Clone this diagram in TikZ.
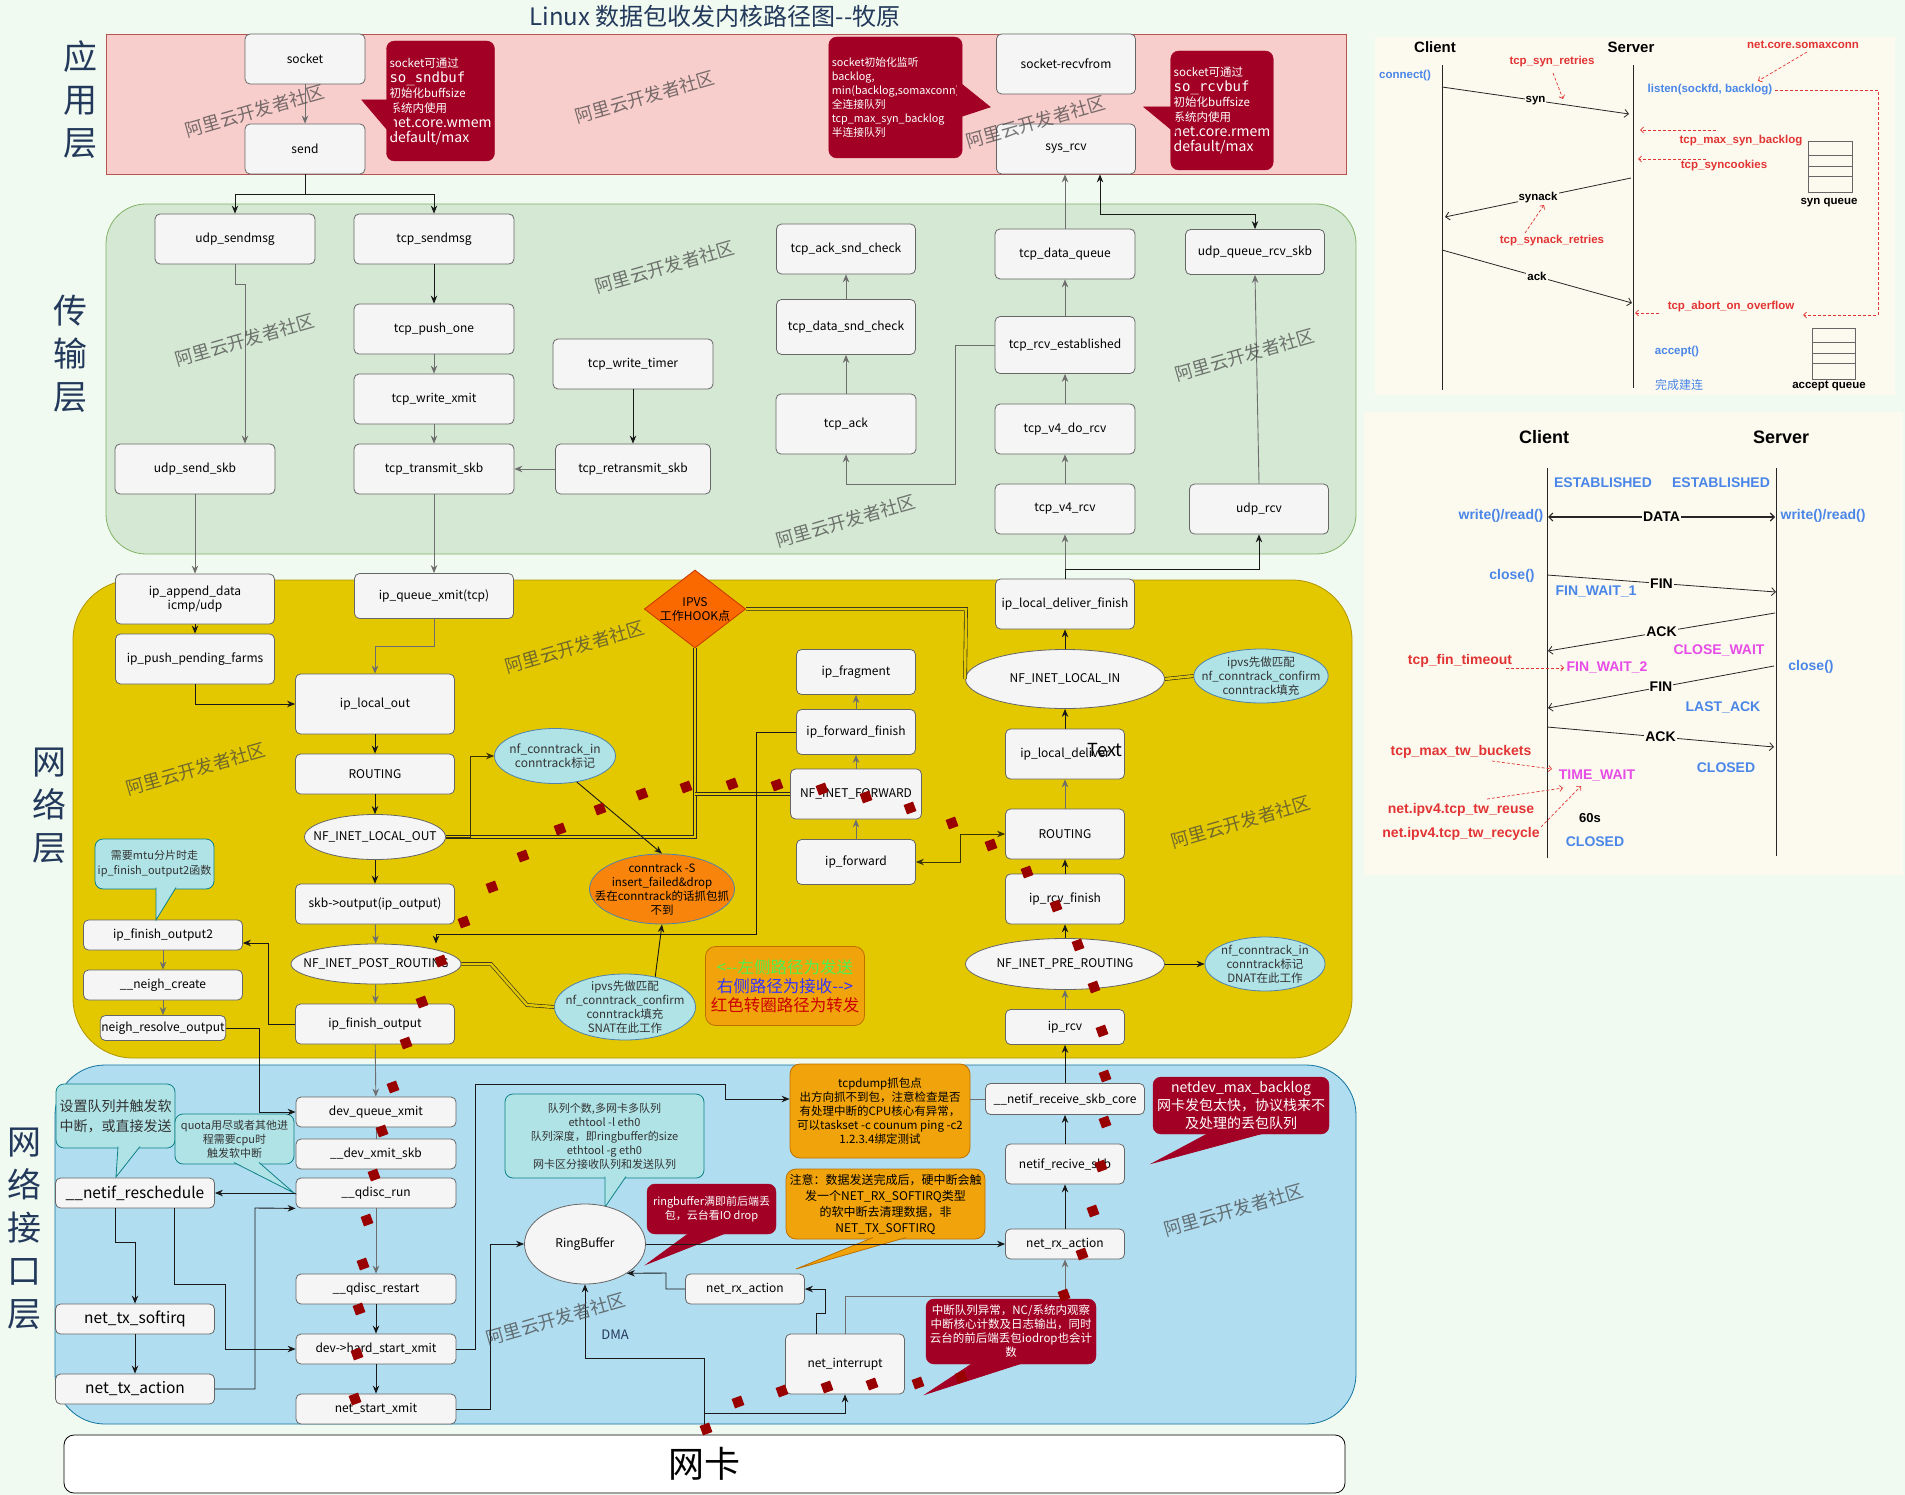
\documentclass[tikz,border=0pt]{standalone}
\usepackage{fontspec}
\setmainfont{Noto Sans CJK SC}
\newfontfamily\monofnt{DejaVu Sans Mono}
\newfontfamily\arialfnt{Liberation Sans}
\usetikzlibrary{arrows.meta,shapes.geometric}
\definecolor{bgG}{RGB}{241,250,240}
\definecolor{appF}{RGB}{248,206,204}
\definecolor{appL}{RGB}{184,84,80}
\definecolor{trF}{RGB}{213,232,212}
\definecolor{trL}{RGB}{130,179,102}
\definecolor{netF}{RGB}{227,200,0}
\definecolor{netL}{RGB}{176,149,0}
\definecolor{ifF}{RGB}{177,221,240}
\definecolor{ifL}{RGB}{16,115,158}
\definecolor{boxF}{RGB}{245,245,245}
\definecolor{boxL}{RGB}{102,102,102}
\definecolor{noteR}{RGB}{162,0,37}
\definecolor{tealF}{RGB}{176,227,230}
\definecolor{tealL}{RGB}{14,128,136}
\definecolor{ellL}{RGB}{80,130,170}
\definecolor{orgF}{RGB}{240,163,10}
\definecolor{orgL}{RGB}{189,112,0}
\definecolor{ipvsF}{RGB}{250,104,0}
\definecolor{ipvsL}{RGB}{199,53,0}
\definecolor{ctF}{RGB}{248,132,12}
\definecolor{navy}{RGB}{35,57,91}
\definecolor{pnlF}{RGB}{252,250,238}
\definecolor{pBlue}{RGB}{74,134,232}
\definecolor{pRed}{RGB}{226,52,52}
\definecolor{pMag}{RGB}{230,76,230}
\definecolor{sqR}{RGB}{153,0,0}
\definecolor{lnG}{RGB}{110,110,110}
\definecolor{lnD}{RGB}{60,52,0}
\definecolor{lgGreen}{RGB}{80,240,80}
\definecolor{lgBlue}{RGB}{51,51,255}
\definecolor{lgRed}{RGB}{204,0,0}
\newcommand\fsz[2]{\fontsize{#1}{#2}\selectfont}
\newcommand\calltail[5]{\fill[#1] #3 -- #4 -- #5 -- cycle; \draw[#2,line width=0.8pt] #3 -- #4 -- #5;}

\begin{document}
\begin{tikzpicture}[x=1pt,y=-1pt,>={Stealth[length=8pt,width=6.5pt]},
  fn/.style={draw=boxL,fill=boxF,rounded corners=5pt,line width=0.8pt,align=center,inner sep=1pt,font=\fsz{12}{14}},
  sz/.style 2 args={minimum width=#1pt,minimum height=#2pt},
  hookE/.style={ellipse,draw=boxL,fill=boxF,line width=0.8pt,inner xsep=-16pt,inner ysep=-4pt,font=\fsz{12}{14}},
  tealE/.style={ellipse,draw=ellL,fill=tealF,line width=0.8pt,inner xsep=-12pt,inner ysep=-6pt,align=center,font=\fsz{11.5}{14},text=black!80},
  tnote/.style={draw=tealL,fill=tealF,rounded corners=8pt,line width=0.8pt,align=center,inner sep=2pt,text=black!80},
  rnote/.style={draw=noteR,fill=noteR,rounded corners=8pt,align=left,inner sep=3pt,text=white},
  onote/.style={draw=orgL,fill=orgF,rounded corners=10pt,line width=0.8pt,align=center,inner sep=2pt},
  gl/.style={draw=lnG,line width=0.9pt},
  bl/.style={draw=black!90,line width=0.9pt},
  dl/.style={draw=lnD,line width=0.9pt},
  dbl/.style={draw=black!85,line width=0.6pt,double=netF,double distance=2.5pt},
  wmark/.style={rotate=16,text=black!75,text opacity=0.7,font=\fsz{18}{18}},
  lyr/.style={text=navy,align=center,font=\fsz{34}{43}},
  ph1/.style={font=\arialfnt\bfseries\fsz{15}{17},inner sep=1pt},
  ph2/.style={font=\arialfnt\bfseries\fsz{18}{20},inner sep=1pt},
  pa/.style={font=\arialfnt\bfseries\fsz{11.5}{13},inner sep=1pt},
  pb/.style={font=\arialfnt\bfseries\fsz{14}{16},inner sep=1pt},
  parr/.style={draw=black!85,line width=0.8pt,-{Straight Barb[length=4pt,width=8pt]}},
  pdash/.style={draw=pRed,line width=0.7pt,dash pattern=on 3pt off 2pt,-{Straight Barb[length=3pt,width=6pt]}}]

\useasboundingbox (0,0) rectangle (1905,1495);
\fill[bgG] (0,0) rectangle (1905,1495);

% layers
\draw[draw=appL,fill=appF,line width=0.8pt] (106,34) rectangle (1346,174);
\draw[draw=trL,fill=trF,line width=0.8pt,rounded corners=40pt] (106,204) rectangle (1356,554);
\draw[draw=netL,fill=netF,line width=0.8pt,rounded corners=60pt] (73,580) rectangle (1352,1058);
\draw[draw=ifL,fill=ifF,line width=0.8pt,rounded corners=50pt] (55,1065) rectangle (1356,1424);
\node[draw=black,fill=white,rounded corners=10pt,line width=0.8pt,sz={1281}{58},font=\fsz{36}{40}] (nic) at (704.5,1464) {网卡};

\node[font=\fsz{24}{28},text=navy] (title) at (715,16) {Linux 数据包收发内核路径图-{}-牧原};
\node[lyr] (lblApp) at (80,100) {应\\用\\层};
\node[lyr] (lblTr) at (70,354) {传\\输\\层};
\node[lyr] (lblNet) at (49,806) {网\\络\\层};
\node[lyr] (lblIf) at (24,1229) {网\\络\\接\\口\\层};

% application layer
\node[fn,sz={120}{50}] (sock) at (305,59) {socket};
\node[fn,sz={120}{50}] (send) at (305,149) {send};
\node[fn,sz={139}{60}] (recvfrom) at (1066,64) {socket-recvfrom};
\node[fn,sz={139}{50}] (sysrcv) at (1066,149) {sys\_rcv};
\node[rnote,sz={97}{120},font=\fsz{11.5}{15}] (sndnote) at (440.5,101) {socket可通过\\{\monofnt\fsz{14}{15}so\_sndbuf}\\初始化buffsize\\系统内使用\\{\fsz{14}{16}net.core.wmem}\\{\fsz{14}{16}default/max}};
\calltail{noteR}{noteR}{(393.5,100)}{(362,100)}{(393.5,137)}
\node[rnote,sz={125}{121},font=\fsz{10.8}{14}] (lsnnote) at (895.5,97.5) {socket初始化监听\\backlog,\\min(backlog,somaxconn)\\全连接队列\\tcp\_max\_syn\_backlog\\半连接队列};
\calltail{noteR}{noteR}{(956.5,80)}{(990,107)}{(956.5,118)}
\node[rnote,sz={96}{119},font=\fsz{11.5}{15}] (rcvnote) at (1222,110.5) {socket可通过\\{\monofnt\fsz{14}{15}so\_rcvbuf}\\初始化buffsize\\系统内使用\\{\fsz{14}{16}net.core.rmem}\\{\fsz{14}{16}default/max}};
\calltail{noteR}{noteR}{(1175.5,107)}{(1144,107)}{(1175.5,133)}

% transport layer
\node[fn,sz={160}{50}] (udpmsg) at (235,239) {udp\_sendmsg};
\node[fn,sz={160}{50}] (tcpmsg) at (434,239) {tcp\_sendmsg};
\node[fn,sz={160}{50}] (pushone) at (434,329) {tcp\_push\_one};
\node[fn,sz={160}{50}] (wxmit) at (434,399) {tcp\_write\_xmit};
\node[fn,sz={160}{50}] (txskb) at (434,469) {tcp\_transmit\_skb};
\node[fn,sz={160}{50}] (udpskb) at (195,469) {udp\_send\_skb};
\node[fn,sz={160}{50}] (wtimer) at (633,364) {tcp\_write\_timer};
\node[fn,sz={155}{50}] (retx) at (633,469) {tcp\_retransmit\_skb};
\node[fn,sz={139}{50}] (acksnd) at (846,249) {tcp\_ack\_snd\_check};
\node[fn,sz={139}{55}] (datasnd) at (846,327) {tcp\_data\_snd\_check};
\node[fn,sz={140}{60}] (tcpack) at (846,424) {tcp\_ack};
\node[fn,sz={140}{50}] (dataq) at (1065,254) {tcp\_data\_queue};
\node[fn,sz={140}{57}] (rcvest) at (1065,345) {tcp\_rcv\_established};
\node[fn,sz={140}{50}] (dorcv) at (1065,429) {tcp\_v4\_do\_rcv};
\node[fn,sz={140}{50}] (v4rcv) at (1065,509) {tcp\_v4\_rcv};
\node[fn,sz={139}{45}] (udpq) at (1255,252) {udp\_queue\_rcv\_skb};
\node[fn,sz={139}{50}] (udprcv) at (1259,509) {udp\_rcv};

% network layer
\node[fn,sz={159}{50}] (append) at (195,599) {ip\_append\_data\\icmp/udp};
\node[fn,sz={159}{50}] (pending) at (195,659) {ip\_push\_pending\_farms};
\node[fn,sz={159}{45}] (qxmit) at (434,596) {ip\_queue\_xmit(tcp)};
\node[fn,sz={159}{60}] (lout) at (375,704) {ip\_local\_out};
\node[fn,sz={159}{40}] (routeL) at (375,774) {ROUTING};
\node[hookE,sz={141}{45}] (hLout) at (375,837) {NF\_INET\_LOCAL\_OUT};
\node[fn,sz={159}{40}] (ipout) at (375,904) {skb->output(ip\_output)};
\node[hookE,sz={170}{40}] (hPost) at (376,964) {NF\_INET\_POST\_ROUTING};
\node[fn,sz={159}{40}] (finout) at (375,1024) {ip\_finish\_output};
\node[fn,sz={159}{30}] (finout2) at (163,935) {ip\_finish\_output2};
\node[fn,sz={159}{30}] (neigh) at (163,985) {\_\_neigh\_create};
\node[fn,sz={119}{25}] (resolve) at (163,1028) {neigh\_resolve\_output};
\node[tnote,sz={119}{50},font=\fsz{11}{15}] (mtunote) at (154.5,864) {需要mtu分片时走\\ip\_finish\_output2函数};
\calltail{tealF}{tealL}{(156,887.5)}{(156,920)}{(176,887.5)}
\node[tealE,sz={121}{55},font=\fsz{12}{14}] (ctinL) at (555,756) {nf\_conntrack\_in\\conntrack标记};
\node[diamond,aspect=1.3,draw=ipvsL,fill=ipvsF,line width=0.8pt,inner sep=0pt,sz={101}{78},align=center,font=\fsz{12}{14}] (ipvs) at (695,609) {IPVS\\工作HOOK点};
\node[ellipse,draw=ellL,fill=ctF,line width=0.8pt,inner xsep=-20pt,inner ysep=-8pt,sz={145}{70},align=center,font=\fsz{11.5}{14}] (ctS) at (662,889) {conntrack -S\\insert\_failed\&drop\\丢在conntrack的话抓包抓\\不到};
\node[tealE,inner xsep=-14pt,inner ysep=-8pt,sz={141}{66}] (ipvsL) at (625,1007) {ipvs先做匹配\\nf\_conntrack\_confirm\\conntrack填充\\SNAT在此工作};
\node[onote,sz={159}{79},font=\fsz{16.5}{19}] (legend) at (785,986) {{\color{lgGreen}<-{}-左侧路径为发送}\\{\color{lgBlue}右侧路径为接收-{}->}\\{\color{lgRed}红色转圈路径为转发}};
\node[fn,sz={139}{50}] (ldfin) at (1065,604) {ip\_local\_deliver\_finish};
\node[hookE,sz={199}{59}] (hLin) at (1065,679) {NF\_INET\_LOCAL\_IN};
\node[tealE,sz={129}{54}] (ipvsR) at (1261,676) {ipvs先做匹配\\nf\_conntrack\_confirm\\conntrack填充};
\node[fn,sz={119}{50}] (ldeliver) at (1065,754) {ip\_local\_deliver};
\node[font=\fsz{18}{18},inner sep=0pt] (stray) at (1105,750) {Text};
\node[fn,sz={119}{50}] (routeR) at (1065,834) {ROUTING};
\node[fn,sz={119}{50}] (rcvfin) at (1065,899) {ip\_rcv\_finish};
\node[hookE,sz={199}{51}] (hPre) at (1065,964) {NF\_INET\_PRE\_ROUTING};
\node[tealE,sz={120}{54}] (ctinR) at (1265,964) {nf\_conntrack\_in\\conntrack标记\\DNAT在此工作};
\node[fn,sz={119}{35}] (iprcv) at (1065,1027) {ip\_rcv};
\node[fn,sz={119}{45}] (frag) at (856,672) {ip\_fragment};
\node[fn,sz={119}{45}] (fwdfin) at (856,732) {ip\_forward\_finish};
\node[fn,sz={131}{50}] (hFwd) at (856,794) {NF\_INET\_FORWARD};
\node[fn,sz={119}{45}] (fwd) at (856,862) {ip\_forward};

% interface layer
\node[fn,sz={160}{30}] (qx) at (376,1112) {dev\_queue\_xmit};
\node[fn,sz={160}{30}] (dxs) at (376,1154) {\_\_dev\_xmit\_skb};
\node[fn,sz={160}{30}] (qrun) at (376,1193) {\_\_qdisc\_run};
\node[fn,sz={160}{30}] (qrest) at (376,1289) {\_\_qdisc\_restart};
\node[fn,sz={160}{30}] (hsx) at (376,1349) {dev->hard\_start\_xmit};
\node[fn,sz={160}{30}] (nsx) at (376,1409) {net\_start\_xmit};
\node[fn,sz={159}{30},font=\fsz{15.5}{17}] (resched) at (135,1193) {\_\_netif\_reschedule};
\node[fn,sz={159}{30},font=\fsz{15.5}{17}] (txsoft) at (135,1319) {net\_tx\_softirq};
\node[fn,sz={159}{30},font=\fsz{15.5}{17}] (txact) at (135,1389) {net\_tx\_action};
\node[tnote,sz={119}{64},align=left,font=\fsz{14}{20}] (setnote) at (115.5,1116) {设置队列并触发软\\中断，或直接发送};
\calltail{tealF}{tealL}{(118,1146.5)}{(116,1177)}{(140,1146.5)}
\node[tnote,sz={119}{50},font=\fsz{11}{14}] (quotanote) at (234.5,1139) {quota用尽或者其他进\\程需要cpu时\\触发软中断};
\calltail{tealF}{tealL}{(234,1162.5)}{(294,1193)}{(259,1162.5)}
\node[tnote,sz={199}{84},font=\fsz{11}{14}] (qnote) at (604.5,1136) {队列个数,多网卡多队列\\ethtool -l eth0\\队列深度，即ringbuffer的size\\ethtool -g eth0\\网卡区分接收队列和发送队列};
\calltail{tealF}{tealL}{(605,1176.5)}{(605,1207)}{(626,1176.5)}
\node[ellipse,draw=boxL,fill=boxF,line width=0.8pt,inner sep=0pt,sz={121}{80},font=\fsz{12}{14}] (ring) at (585,1244) {RingBuffer};
\node[rnote,sz={129}{50},align=center,font=\fsz{11}{14}] (ringnote) at (711.5,1209) {ringbuffer满即前后端丢\\包，云台看IO drop};
\calltail{noteR}{noteR}{(690,1232.5)}{(647,1264)}{(727,1232.5)}
\node[onote,sz={180}{94},font=\fsz{11.5}{14}] (dumpnote) at (880,1111) {tcpdump抓包点\\出方向抓不到包，注意检查是否\\有处理中断的CPU核心有异常，\\可以taskset -c counum ping -c2\\1.2.3.4绑定测试};
\node[onote,sz={199}{70},font=\fsz{12}{16}] (softnote) at (885.5,1204) {注意：数据发送完成后，硬中断会触\\发一个NET\_RX\_SOFTIRQ类型\\的软中断去清理数据，非\\NET\_TX\_SOFTIRQ};
\calltail{orgF}{orgL}{(873,1237.5)}{(796,1269)}{(906,1237.5)}
\node[fn,sz={159}{31}] (nrskb) at (1065,1099) {\_\_netif\_receive\_skb\_core};
\node[fn,sz={119}{40}] (nrecv) at (1065,1164) {netif\_recive\_skb};
\node[fn,sz={119}{30}] (rxR) at (1065,1244) {net\_rx\_action};
\node[fn,sz={119}{30}] (rxL) at (745,1289) {net\_rx\_action};
\node[fn,sz={119}{60}] (nirq) at (845,1364) {net\_interrupt};
\node[rnote,sz={176}{57},align=center,font=\fsz{14}{18}] (blognote) at (1241,1105.5) {netdev\_max\_backlog\\网卡发包太快，协议栈来不\\及处理的丢包队列};
\calltail{noteR}{noteR}{(1210,1132.5)}{(1153,1163)}{(1266,1132.5)}
\node[rnote,sz={170}{65},align=center,font=\fsz{11.5}{14}] (irqnote) at (1011,1331.5) {中断队列异常，NC/系统内观察\\中断核心计数及日志输出，同时\\云台的前后端丢包iodrop也会计\\数};
\calltail{noteR}{noteR}{(974,1362.5)}{(926,1394)}{(1024,1362.5)}
\node[font=\fsz{13}{15},text=navy] (dma) at (615,1335) {DMA};

% connectors: application and transport
\draw[gl,->] (sock) -- (send);
\draw[bl,->] (send.south) -- (305,194) -| (udpmsg.north);
\draw[bl,->] (305,194) -| (tcpmsg.north);
\draw[gl,->] (dataq.north) -- (dataq.north |- sysrcv.south);
\draw[bl,<->] ([xshift=34pt]sysrcv.south) -- ++(0,40) -| (udpq.north);
\draw[gl,->] (udpmsg.south) -- ++(0,20) -| ([xshift=50pt]udpskb.north);
\draw[bl,->] (tcpmsg) -- (pushone);
\draw[gl,->] (pushone) -- (wxmit);
\draw[gl,->] (wxmit) -- (txskb);
\draw[bl,->] (wtimer) -- (retx);
\draw[gl,->] (retx) -- (txskb);
\draw[gl,->] (udpskb.south) -- (append.north);
\draw[gl,->] (txskb.south) -- (qxmit.north);
\draw[gl,->] (tcpack) -- (datasnd);
\draw[gl,->] (datasnd) -- (acksnd);
\draw[gl,->] (rcvest.west) -| (955,484) -| (tcpack.south);
\draw[gl,->] (v4rcv) -- (dorcv);
\draw[gl,->] (dorcv) -- (rcvest);
\draw[gl,->] (rcvest) -- (dataq);
\draw[gl,->] (udprcv.north) -- (udpq.south);
\draw[gl,->] (ldfin.north) -- (v4rcv.south);
\draw[bl,->] (ldfin.north) -- ++(0,-9) -| (udprcv.south);

% connectors: network layer
\draw[dbl] (hLout.east) -- (695,837) -- (ipvs.south);
\draw[dbl] (695,794) -- (hFwd.west);
\draw[dbl] (ipvs.east) -- (966,609) -- (hLin.west);
\draw[dbl] (hLin.east) -- (ipvsR.west);
\draw[dbl] (hPost.east) -- (491,964) -- (527,1005) -- (ipvsL.west);
\draw[bl,->] (append) -- (pending);
\draw[bl,->] (pending.south) |- (lout.west);
\draw[gl,->] (qxmit.south) -- ++(0,28) -| (lout.north);
\draw[bl,->] (lout) -- (routeL);
\draw[bl,->] (routeL) -- (hLout);
\draw[bl,->] (hLout) -- (ipout);
\draw[gl,->] (ipout) -- (hPost);
\draw[gl,->] (hPost) -- (finout);
\draw[dl,->] (hLout.east) -- ++(24.5,0) |- (ctinL.west);
\draw[bl,->] (ctinL.-50) -- (ctS.north);
\draw[bl,->] (ipvsL.45) -- (ctS.south);
\draw[bl,->] (fwdfin.west) -| (756,934) -| ([xshift=60pt]hPost.north);
\draw[gl,->] (fwd) -- (hFwd);
\draw[gl,->] (hFwd) -- (fwdfin);
\draw[gl,->] (fwdfin) -- (frag);
\draw[dl,<->] (fwd.east) -| (960,834) -- (routeR.west);
\draw[gl,->] (iprcv) -- (hPre);
\draw[bl,->] (hPre) -- (rcvfin);
\draw[bl,->] (rcvfin) -- (routeR);
\draw[gl,->] (routeR) -- (ldeliver);
\draw[bl,->] (ldeliver) -- (hLin);
\draw[bl,->] (hLin) -- (ldfin);
\draw[bl,->] (hPre) -- (ctinR);
\draw[bl,->] (nrskb) -- (iprcv);

% connectors: interface layer
\draw[gl,->] (finout) -- (qx);
\draw[bl,->] (resolve.east) -| (259,1112) -- (qx.west);
\draw[bl,->] (finout.west) -- ++(-27,0) |- ([yshift=-8pt]finout2.east);
\draw[gl,->] (finout2) -- (neigh);
\draw[gl,->] (neigh) -- (resolve);
\draw[gl] (qx) -- (dxs);
\draw[gl] (dxs) -- (qrun);
\draw[gl,->] (qrun) -- (qrest);
\draw[bl,->] (qrest) -- (hsx);
\draw[bl,->] (hsx) -- (nsx);
\draw[bl,->] (qrun) -- (resched);
\draw[bl,->] ([xshift=-20pt]resched.south) -- ++(0,34) -| (txsoft.north);
\draw[bl,->] ([xshift=39pt]resched.south) |- (225,1284) |- (hsx.west);
\draw[bl,->] (txsoft) -- (txact);
\draw[bl,->] (txact.east) -| (255,1208) -- (qrun.south west);
\draw[bl,->] (hsx.east) -| (475,1084) -| (725,1099) -- ([yshift=12pt]dumpnote.west);
\draw[gl] (dumpnote.east |- nrskb.west) -- (nrskb.west);
\draw[bl,->] (nsx.east) -| (490,1244) -- (ring.west);
\draw[bl,->] (ring.east) -- (rxR.west);
\draw[bl,->] (nic.north) -- ++(0,-76) -| (ring.south);
\draw[bl,->] (nic.north) -- ++(0,-21) -| (nirq.south);
\draw[bl,->] ([xshift=-29pt]nirq.north) -- ++(0,-20) -| (825,1289) -- (rxL.east);
\draw[bl,->] (rxL.west) -| (666,1273) -- (ring.-35);
\draw[gl,->] (nirq.north) -- ++(0,-37) -| (rxR.south);
\draw[bl,->] (rxR) -- (nrecv);
\draw[bl,->] (nrecv) -- (nrskb);

% forwarding path marks
\foreach \sx/\sy in {686/787,732/784,642/794,600/809,560/829,523/856,492/887,464/922,441/961,422/1002,406/1043,
  777/785,822/789,866/797,910/808,952/823,991/845,1027/872,1056/906,1078/945,1094/987,1102/1031,
  393/1087,382/1131,374/1175,367/1220,363/1264,359/1309,357/1354,355/1399,706/1429,
  1105/1076,1105/1122,1101/1166,1093/1211,1082/1254,1064/1295,961/1377,918/1383,872/1384,827/1387,782/1391,738/1402}
  \fill[sqR,shift={(\sx,\sy)},rotate=20] (-5,-5) rectangle (5,5);

% watermarks
\foreach \wx/\wy [count=\wi] in {255/111,645/97,1036/122,245/340,665/267,1245/355,846/521,575/647,196/769,1241/822,556/1319,1234/1210}
  \node[wmark] (wm\wi) at (\wx,\wy) {阿里云开发者社区};

% handshake panel
\fill[pnlF] (1375,37) rectangle (1895,395);
\node[ph1] (hsCl) at (1435,47) {Client};
\node[ph1] (hsSv) at (1631,47) {Server};
\node[pa,text=pRed] (hsSomax) at (1803,45) {net.core.somaxconn};
\node[pa,text=pBlue] (hsConn) at (1405,76) {connect()};
\node[pa,text=pRed] (hsSynR) at (1552,62) {tcp\_syn\_retries};
\draw[black!85,line width=0.8pt] (1442,65) -- (1442,390);
\draw[black!85,line width=0.8pt] (1633,65) -- (1633,388);
\draw[parr] (1442,87) -- (1629,114) node[midway,pa,fill=pnlF] (hsSyn) {syn};
\draw[pdash] (1553,73) -- (1563,99);
\node[pa,text=pBlue] (hsListen) at (1710,90) {listen(sockfd, backlog)};
\draw[pdash] (1807,52) -- (1758,81);
\draw[pdash] (1775,90) -- (1878,90) -- (1878,315) -- (1803,315);
\draw[pdash] (1716,130) -- (1640,130);
\node[pa,text=pRed] (hsMaxSyn) at (1741,141) {tcp\_max\_syn\_backlog};
\draw[pdash] (1706,159) -- (1638,159);
\node[pa,text=pRed] (hsCookie) at (1724,166) {tcp\_syncookies};
\draw[black!60,line width=0.8pt] (1808,141) rectangle (1852,192);
\foreach \qy in {155,166,176} \draw[black!60,line width=0.8pt] (1808,\qy) -- (1852,\qy);
\node[pa] (hsSynQ) at (1829,203) {syn queue};
\draw[parr] (1631,178) -- (1445,217) node[midway,pa,fill=pnlF] (hsSynAck) {synack};
\draw[pdash] (1525,233) -- (1544,205);
\node[pa,text=pRed] (hsSynAckR) at (1552,241) {tcp\_synack\_retries};
\draw[parr] (1442,250) -- (1632,303) node[midway,pa,fill=pnlF] (hsAck) {ack};
\node[pa,text=pRed] (hsAbort) at (1731,307) {tcp\_abort\_on\_overflow};
\draw[pdash] (1659,313) -- (1635,313);
\draw[black!60,line width=0.8pt] (1812,328) rectangle (1855,379);
\foreach \qy in {342,353,363} \draw[black!60,line width=0.8pt] (1812,\qy) -- (1855,\qy);
\node[pa] (hsAccQ) at (1829,386) {accept queue};
\node[pa,text=pBlue] (hsAccept) at (1677,352) {accept()};
\node[font=\fsz{12}{14},text=pBlue] (hsDone) at (1679,385) {完成建连};

% teardown panel
\fill[pnlF] (1364,412) rectangle (1903,875);
\node[ph2] (fnCl) at (1544,437) {Client};
\node[ph2] (fnSv) at (1781,437) {Server};
\draw[black!85,line width=0.8pt] (1547,468) -- (1547,858);
\draw[black!85,line width=0.8pt] (1776,468) -- (1776,856);
\node[pb,text=pBlue] (fnEst1) at (1603,483) {ESTABLISHED};
\node[pb,text=pBlue] (fnEst2) at (1721,483) {ESTABLISHED};
\node[pb,text=pBlue] (fnRw1) at (1501,516) {write()/read()};
\node[pb,text=pBlue] (fnRw2) at (1823,516) {write()/read()};
\draw[draw=black!85,line width=1.2pt,{Straight Barb[length=4pt,width=8pt]}-{Straight Barb[length=4pt,width=8pt]}] (1548,517) -- (1775,517) node[midway,pb,fill=pnlF] (fnData) {DATA};
\node[pb,text=pBlue] (fnClose1) at (1512,576) {close()};
\draw[parr] (1547,575) -- (1776,592) node[midway,pb,fill=pnlF] (fnFin1) {FIN};
\node[pb,text=pBlue] (fnFw1) at (1596,592) {FIN\_WAIT\_1};
\draw[parr] (1775,613) -- (1548,651) node[midway,pb,fill=pnlF] (fnAck1) {ACK};
\node[pb,text=pMag] (fnCw) at (1719,650) {CLOSE\_WAIT};
\node[pb,text=pRed] (fnFinTo) at (1460,661) {tcp\_fin\_timeout};
\draw[pdash] (1506,668) -- (1564,668);
\node[pb,text=pMag] (fnFw2) at (1607,667) {FIN\_WAIT\_2};
\node[pb,text=pBlue] (fnClose2) at (1811,667) {close()};
\draw[parr] (1774,666) -- (1548,708) node[midway,pb,fill=pnlF] (fnFin2) {FIN};
\node[pb,text=pBlue] (fnLast) at (1723,707) {LAST\_ACK};
\draw[parr] (1547,727) -- (1774,747) node[midway,pb,fill=pnlF] (fnAck2) {ACK};
\node[pb,text=pRed] (fnBuckets) at (1461,752) {tcp\_max\_tw\_buckets};
\draw[pdash] (1492,761) -- (1552,769);
\node[pb,text=pMag] (fnTw) at (1597,776) {TIME\_WAIT};
\node[pb,text=pBlue] (fnClosedS) at (1726,768) {CLOSED};
\node[pb,text=pRed] (fnReuse) at (1461,810) {net.ipv4.tcp\_tw\_reuse};
\draw[pdash] (1487,799) -- (1563,788);
\node[pb,text=pRed] (fnRecycle) at (1461,834) {net.ipv4.tcp\_tw\_recycle};
\draw[pdash] (1541,827) -- (1581,786);
\node[pb,font=\arialfnt\bfseries\fsz{13}{15}] (fn60) at (1590,818) {60s};
\node[pb,text=pBlue] (fnClosedC) at (1595,842) {CLOSED};
\end{tikzpicture}
\end{document}
